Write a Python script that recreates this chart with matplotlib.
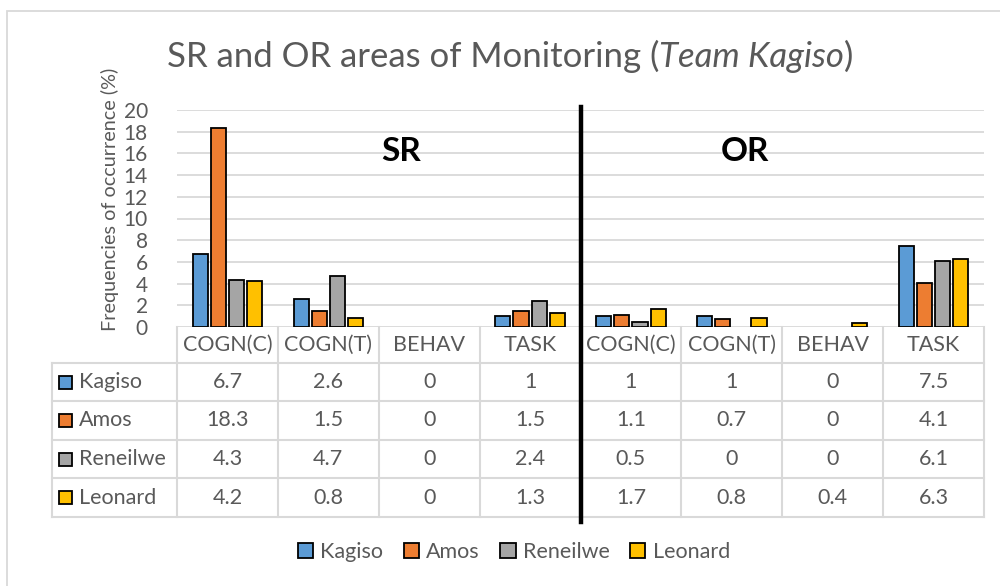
import numpy as np
import matplotlib
matplotlib.use("Agg")
import matplotlib.pyplot as plt
from matplotlib.transforms import blended_transform_factory
from matplotlib.patches import Rectangle
from matplotlib.lines import Line2D

plt.rcParams['font.family'] = ['Lato', 'DejaVu Sans']

categories = ['COGN(C)', 'COGN(T)', 'BEHAV', 'TASK', 'COGN(C)', 'COGN(T)', 'BEHAV', 'TASK']
series_names = ['Kagiso', 'Amos', 'Reneilwe', 'Leonard']
kagiso = [6.7, 2.6, 0, 1, 1, 1, 0, 7.5]
amos = [18.3, 1.5, 0, 1.5, 1.1, 0.7, 0, 4.1]
reneilwe = [4.3, 4.7, 0, 2.4, 0.5, 0, 0, 6.1]
leonard = [4.2, 0.8, 0, 1.3, 1.7, 0.8, 0.4, 6.3]
yticks = [0, 2, 4, 6, 8, 10, 12, 14, 16, 18, 20]
title_main = "SR and OR areas of Monitoring ("
title_ital = "Team Kagiso"
title_end = ")"
ylabel = "Frequencies of occurrence (%)"
region_labels = ['SR', 'OR']

series = [kagiso, amos, reneilwe, leonard]
colors = ['#5B9BD5', '#ED7D31', '#A5A5A5', '#FFC000']
TXT = '#595959'
GRID = '#D9D9D9'
FS = 15.5

W, H = 1000, 586
fig = plt.figure(figsize=(10, 5.86), dpi=100)
def fx(px): return px / W
def fy(py): return 1 - py / H

# chart frame
fig.add_artist(Rectangle((fx(7), -0.1), 1.2, fy(11) + 0.1, transform=fig.transFigure,
                         fill=False, edgecolor=GRID, lw=1.3))

ax = fig.add_axes([fx(177), fy(327), fx(984) - fx(177), fy(110) - fy(327)])
n = len(categories)
x = np.arange(n)
for i, (vals, c, name) in enumerate(zip(series, colors, series_names)):
    lws = [1.3 if v > 0 else 0 for v in vals]
    ax.bar(x + (i - 1.5) * 0.18, vals, width=0.15, color=c, edgecolor='black',
           linewidth=lws, label=name, zorder=3)
ax.set_xlim(-0.5, n - 0.5)
ax.set_ylim(0, 20)
ax.set_yticks(yticks)
ax.yaxis.grid(True, color=GRID, lw=1.3, zorder=0)
ax.set_axisbelow(True)
ax.set_xticks([])
for s in ax.spines.values():
    s.set_visible(False)
ax.tick_params(axis='y', length=0, pad=21, labelsize=15, labelcolor=TXT)
fig.text(fx(110), fy(199), ylabel, rotation=90, ha='center', va='center', fontsize=14.3, color=TXT)

# region labels
ax.text(1.72, 16.2, region_labels[0], fontsize=24, fontweight='bold', ha='center', va='center', color='black')
ax.text(5.13, 16.2, region_labels[1], fontsize=24, fontweight='bold', ha='center', va='center', color='black')

# table
bt = blended_transform_factory(ax.transData, fig.transFigure)
row_y = [327, 363, 401, 440, 478, 517]
tbl_left = fx(52)
for yy in row_y[1:]:
    fig.add_artist(Line2D([tbl_left, fx(984)], [fy(yy), fy(yy)], color=GRID, lw=1.5,
                          transform=fig.transFigure, zorder=1))
for b in np.arange(n + 1) - 0.5:
    fig.add_artist(Line2D([b, b], [fy(327), fy(517)], color=GRID, lw=1.5, transform=bt, zorder=1))
fig.add_artist(Line2D([tbl_left, tbl_left], [fy(363), fy(517)], color=GRID, lw=1.5,
                      transform=fig.transFigure, zorder=1))
for j, cat in enumerate(categories):
    fig.text(j, fy((row_y[0] + row_y[1]) / 2), cat, transform=bt, ha='center', va='center',
             fontsize=FS, color=TXT)
for i, (vals, c, name) in enumerate(zip(series, colors, series_names)):
    yc = fy((row_y[i + 1] + row_y[i + 2]) / 2)
    fig.add_artist(Rectangle((fx(59), yc - 6.5 / H), 13 / W, 13 / H, transform=fig.transFigure,
                             facecolor=c, edgecolor='black', lw=1.3))
    fig.text(fx(79), yc, name, ha='left', va='center', fontsize=FS, color=TXT)
    for j, v in enumerate(vals):
        fig.text(j, yc, f"{v:g}", transform=bt, ha='center', va='center', fontsize=FS, color=TXT)

# divider line
fig.add_artist(Line2D([3.5, 3.5], [fy(107), fy(522)], color='black', lw=3.2, transform=bt, zorder=5))

# legend
handles = [Rectangle((0, 0), 1, 1, facecolor=c, edgecolor='black', lw=1.3) for c in colors]
fig.legend(handles, series_names, loc='center', bbox_to_anchor=(fx(514), fy(552)), ncol=4,
           frameon=False, fontsize=FS, labelcolor=TXT, handlelength=0.7, handleheight=0.7,
           handletextpad=0.35, columnspacing=0.95)

# title with italic part
fig.canvas.draw()
r = fig.canvas.get_renderer()
parts = [(title_main, 'normal'), (title_ital, 'italic'), (title_end, 'normal')]
texts = [fig.text(0, fy(67), s, fontsize=25, style=st, color=TXT, va='baseline', ha='left')
         for s, st in parts]
widths = [t.get_window_extent(r).width for t in texts]
xpos = 510 - sum(widths) / 2
for t, w in zip(texts, widths):
    t.set_x(fx(xpos))
    xpos += w

fig.savefig('out.png', dpi=100)
